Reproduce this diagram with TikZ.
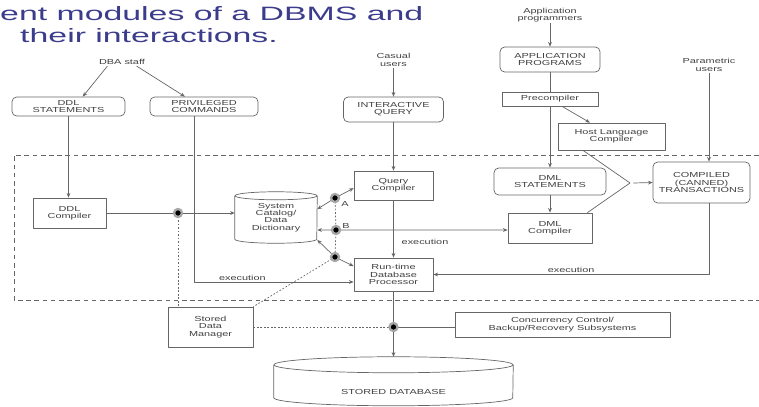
\documentclass[tikz,border=0pt]{standalone}
\usepackage{fontspec}
\usepackage{tikz}
\usetikzlibrary{arrows.meta,calc,positioning}
\newfontfamily\diagfont[FakeStretch=1.5]{Liberation Sans}
\newfontfamily\titlefont[FakeStretch=1.75]{Liberation Sans}
\definecolor{titleblue}{HTML}{3C3C8C}
\definecolor{linegray}{gray}{0.4}

\begin{document}
\begin{tikzpicture}[x=0.03cm,y=-0.03cm,>={Stealth[length=4pt,width=3.2pt]},line join=round,
  every node/.style={font=\diagfont\fontsize{6.2pt}{6.2pt}\selectfont,text=black!75},
  title/.style={font=\titlefont\fontsize{16.5pt}{20pt}\selectfont,text=titleblue,inner sep=0pt},
  box/.style={draw=linegray,line width=0.6pt,align=center,inner sep=1pt},
  rbox/.style={box,rounded corners=4pt},
  wire/.style={draw=linegray,line width=0.6pt},
  dots/.style={wire,dash pattern=on 1.5pt off 1.5pt},
  hub/.style={circle,fill=black,draw=black!35,line width=2pt,inner sep=0pt,minimum size=0.24cm},
  lbl/.style={inner sep=1pt,align=center}]
\useasboundingbox (0,0) rectangle (759,406);
\clip (0,0) rectangle (759,406);
% heading (cut at the left)
\node[title,anchor=base west] (title1) at (0,20) {ent modules of a DBMS and};
\node[title,anchor=base west] (title2) at (20,42) {their interactions.};
% dashed region round the DBMS modules
\draw[wire,dash pattern=on 4pt off 3pt] (759,155) -- (14,155) -- (14,300) -- (759,300);
% users
\node[lbl] (dba) at (122,62) {DBA staff};
\node[lbl] (casual) at (393.5,60) {Casual\\users};
\node[lbl] (appusers) at (550,15) {Application\\programmers};
\node[lbl] (param) at (709,65) {Parametric\\users};
% upper boxes
\node[rbox,minimum width=3.39cm,minimum height=0.57cm] (ddlst) at (68.5,106.5) {DDL\\STATEMENTS};
\node[rbox,minimum width=3.24cm,minimum height=0.57cm] (priv) at (204,106.5) {PRIVILEGED\\COMMANDS};
\node[rbox,minimum width=3cm,minimum height=0.75cm] (iq) at (393.5,109.5) {INTERACTIVE\\QUERY};
\node[rbox,minimum width=3cm,minimum height=0.75cm] (app) at (550,59.5) {APPLICATION\\PROGRAMS};
\node[box,minimum width=2.88cm,minimum height=0.42cm] (prec) at (550,99) {Precompiler};
\node[box,minimum width=3.21cm,minimum height=0.81cm] (hlc) at (611.5,136.5) {Host Language\\Compiler};
% modules inside the region
\node[box,minimum width=2.19cm,minimum height=0.9cm] (ddlc) at (69.5,213) {DDL\\Compiler};
\node[box,minimum width=2.37cm,minimum height=0.87cm] (qc) at (393.5,185.5) {Query\\Compiler};
\node[box,minimum width=2.37cm,minimum height=0.99cm] (rt) at (393.5,274.5) {Run-time\\Database\\Processor};
\node[rbox,minimum width=3.36cm,minimum height=0.81cm] (dmls) at (550,181.5) {DML\\STATEMENTS};
\node[box,minimum width=2.52cm,minimum height=0.9cm] (dmlc) at (550,228) {DML\\Compiler};
\node[rbox,minimum width=2.91cm,minimum height=1.23cm] (comp) at (701.5,182.5) {COMPILED\\(CANNED)\\TRANSACTIONS};
\node[lbl,minimum width=2.46cm,minimum height=1.53cm] (cat) at (276,217.5) {System\\Catalog/\\Data\\Dictionary};
\draw[wire] ([yshift=-0.12cm]cat.north) ellipse [x radius=1.23cm,y radius=0.12cm];
\draw[wire] ([yshift=-0.12cm]cat.north west) -- ([yshift=0.12cm]cat.south west)
  arc [start angle=180,end angle=360,x radius=1.23cm,y radius=0.12cm] -- ([yshift=-0.12cm]cat.north east);
% lower boxes
\node[box,minimum width=2.55cm,minimum height=1.2cm] (sdm) at (210.5,327) {Stored\\Data\\Manager};
\node[box,minimum width=6.45cm,minimum height=0.75cm] (conc) at (562.5,324.5) {Concurrency Control/\\Backup/Recovery Subsystems};
\node[lbl,minimum width=7.17cm,minimum height=2.1cm] (sdb) at (393.5,392) {STORED DATABASE};
\draw[wire] ([yshift=-0.24cm]sdb.north) ellipse [x radius=3.585cm,y radius=0.24cm];
\draw[wire] ([yshift=-0.24cm]sdb.north west) -- ++(0,33)
  arc [start angle=180,end angle=360,x radius=3.585cm,y radius=0.24cm] -- ([yshift=-0.24cm]sdb.north east);
% hub points
\coordinate (h1) at (178,213);
\coordinate (hA) at (335,198);
\coordinate (hB) at (336,230);
\coordinate (hC) at (335,257);
\coordinate (h2) at (393.5,327);
\node[lbl,anchor=west] (labA) at (340,204) {A};
\node[lbl,anchor=west] (labB) at (341,226) {B};
% users to boxes
\draw[wire,->] ($(dba.south)!0.6!(dba.south west)$) -- ($(ddlst.north)!0.25!(ddlst.north east)$);
\draw[wire,->] ($(dba.south)!0.6!(dba.south east)$) -- ($(priv.north)!0.35!(priv.north west)$);
\draw[wire,->] (casual.south) -- (iq.north);
\draw[wire,->] (appusers.south) -- (app.north);
\draw[wire,->] (param.south) -- (param.south |- comp.north);
% DDL path
\draw[wire,->] (ddlst.south) -- (ddlst.south |- ddlc.north);
\draw[wire] (ddlc.east) -- (h1);
\draw[wire,->] (h1) -- (h1 -| cat.west);
\draw[wire,->] ($(priv.south)!0.17!(priv.south west)$) |- node[lbl,pos=0.65,above] {execution} ([yshift=-0.225cm]rt.west);
% query path
\draw[wire,->] (iq.south) -- (qc.north);
\draw[wire,->] (qc.south) -- node[lbl,pos=0.72,right=0.2cm] {execution} (rt.north);
% application path
\draw[wire] (app.south) -- (prec.north);
\draw[wire,->] (prec.south) -- (dmls.north);
\draw[wire,->] ($(prec.south)!0.25!(prec.south east)$) -- ($(hlc.north west)!0.6!(hlc.north)$);
\draw[wire,->] (dmls.south) -- (dmlc.north);
\coordinate (merge) at (630,183);
\draw[wire] ($(hlc.south west)!0.47!(hlc.south)$) -- (merge) -- ([xshift=-0.15cm]dmlc.north east);
\draw[wire,->] ([xshift=0.1cm]merge) -- (comp.west);
\draw[wire,->] (param.south |- comp.south) |- node[lbl,pos=0.75,above] {execution} (rt.east);
% catalog links
\draw[wire,<->] ([yshift=0.25cm]cat.east) -- (hA) -- ([yshift=-0.08cm]qc.west);
\draw[wire,<->] ([yshift=-0.375cm]cat.east) -- (hB) -- (hB -| dmlc.west);
\draw[wire,<->] ([yshift=0.1cm]cat.south east) -- (hC) -- ([yshift=0.25cm]rt.west);
% storage
\draw[wire] (rt.south) -- (h2);
\draw[wire,->] (h2) -- (sdb.north);
\draw[wire] (h2) -- (h2 -| conc.west);
\draw[dots] (h1) -- (h1 |- sdm.north);
\draw[dots] (hA) -- (hB) -- (hC);
\draw[dots] (hC) -- (sdm.north east);
\draw[dots] (sdm.east) -- (h2);
% hub dots on top
\foreach \h in {h1,hA,hB,hC,h2}
  \node[hub] (\h dot) at (\h) {};
\end{tikzpicture}
\end{document}
